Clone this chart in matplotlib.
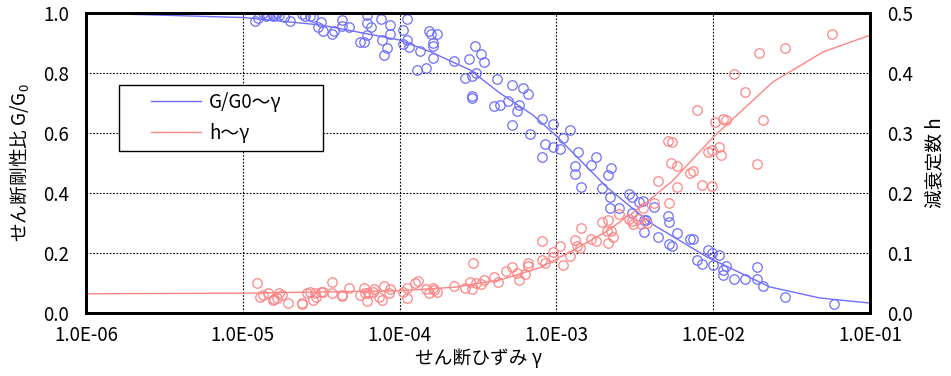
import numpy as np
import matplotlib

matplotlib.use("Agg")
import matplotlib.pyplot as plt
from matplotlib.legend_handler import HandlerLine2D
from matplotlib.patches import Rectangle
from matplotlib.ticker import FixedLocator, FuncFormatter

plt.rcParams["font.family"] = ["Noto Sans CJK JP", "DejaVu Sans"]
plt.rcParams["mathtext.default"] = "regular"

# G/G0 test points: log10(strain), G/G0
g_logx = [-4.92, -4.90, -4.87, -4.85, -4.84, -4.81, -4.81, -4.78, -4.77, -4.74, -4.70,
          -4.62, -4.60, -4.57, -4.55, -4.50, -4.52, -4.49, -4.43, -4.42, -4.37, -4.37,
          -4.32, -4.25, -4.23, -4.21, -4.21, -4.18, -4.21, -4.12, -4.11, -4.06, -4.06,
          -4.08, -4.10,
          -3.98, -3.95, -3.95, -3.98, -3.94, -3.87, -3.81, -3.80, -3.76, -3.79, -3.79,
          -3.79, -3.83, -3.89, -3.65, -3.56, -3.52, -3.48, -3.46, -3.51, -3.54, -3.58,
          -3.38, -3.54, -3.54, -3.40, -3.36, -3.31, -3.28, -3.21, -3.18, -3.24, -3.25,
          -3.28, -3.17,
          -3.09, -3.02, -2.91, -2.96, -3.07, -3.09, -3.02, -2.98, -2.86, -2.75, -2.78,
          -2.88, -2.88, -2.84, -2.65, -2.67, -2.71, -2.66, -2.54, -2.52, -2.47, -2.45,
          -2.66, -2.60, -2.52, -2.38, -2.44, -2.43, -2.29, -2.28, -2.44, -2.35, -2.23,
          -2.28, -2.26, -2.15, -2.13, -2.03, -2.01, -1.96, -2.10, -2.07, -2.00, -1.94,
          -1.92, -1.94, -1.87, -1.72, -1.80, -1.72, -1.68, -1.54, -1.23]
g_val = [0.973, 0.983, 1.0, 0.99, 0.993, 0.997, 0.99, 1.0, 0.993, 0.987, 0.973,
         0.997, 0.99, 0.99, 0.987, 0.97, 0.953, 0.94, 0.93, 0.94, 0.977, 0.957,
         0.953, 0.903, 0.903, 0.993, 0.967, 0.953, 0.927, 0.98, 0.91, 0.96, 0.93,
         0.883, 0.86,
         0.943, 0.98, 0.91, 0.897, 0.887, 0.873, 0.94, 0.93, 0.93, 0.90, 0.89,
         0.85, 0.817, 0.81, 0.84, 0.847, 0.89, 0.863, 0.837, 0.80, 0.79, 0.783,
         0.78, 0.723, 0.717, 0.69, 0.693, 0.707, 0.76, 0.75, 0.73, 0.693, 0.673,
         0.627, 0.597,
         0.647, 0.63, 0.61, 0.583, 0.563, 0.52, 0.553, 0.547, 0.537, 0.52, 0.493,
         0.49, 0.463, 0.42, 0.483, 0.46, 0.417, 0.387, 0.397, 0.387, 0.37, 0.373,
         0.35, 0.35, 0.333, 0.353, 0.31, 0.31, 0.323, 0.303, 0.27, 0.253, 0.267,
         0.23, 0.223, 0.247, 0.247, 0.21, 0.20, 0.193, 0.177, 0.163, 0.16, 0.143,
         0.157, 0.127, 0.113, 0.153, 0.113, 0.113, 0.09, 0.053, 0.03]

# damping test points: log10(strain), h
h_logx = [-4.91, -4.89, -4.87, -4.84, -4.81, -4.78, -4.77, -4.75, -4.80, -4.71, -4.62,
          -4.62, -4.59, -4.57, -4.55, -4.54, -4.53, -4.50, -4.49, -4.43, -4.43, -4.37,
          -4.37, -4.32, -4.25, -4.23, -4.22, -4.21, -4.20, -4.17, -4.16, -4.13, -4.11,
          -4.10, -4.07, -4.06,
          -3.98, -3.95, -3.95, -3.90, -3.88, -3.83, -3.81, -3.79, -3.78, -3.76, -3.65,
          -3.58, -3.55, -3.54, -3.53, -3.51, -3.48, -3.46, -3.40, -3.37, -3.32, -3.28,
          -3.25, -3.24, -3.20, -3.18, -3.18,
          -3.09, -3.09, -3.07, -3.02, -3.02, -2.98, -2.96, -2.91, -2.88, -2.87, -2.85,
          -2.84, -2.78, -2.75, -2.71, -2.67, -2.68, -2.65, -2.64, -2.67, -2.60, -2.54,
          -2.52, -2.51, -2.48, -2.46, -2.42, -2.45, -2.38, -2.35, -2.28, -2.29, -2.26,
          -2.27, -2.23, -2.23, -2.15, -2.13, -2.07, -2.01, -2.03, -2.01, -1.96, -1.95,
          -1.99, -1.94, -1.92, -2.10, -1.80, -1.87, -1.72, -1.68, -1.71, -1.54, -1.24]
h_val = [0.05, 0.027, 0.03, 0.033, 0.022, 0.025, 0.033, 0.03, 0.023, 0.017, 0.017,
         0.015, 0.033, 0.035, 0.022, 0.033, 0.027, 0.035, 0.035, 0.052, 0.033, 0.03,
         0.028, 0.042, 0.03, 0.042, 0.033, 0.02, 0.033, 0.035, 0.04, 0.027, 0.022,
         0.045, 0.033, 0.04,
         0.035, 0.025, 0.042, 0.05, 0.053, 0.04, 0.033, 0.042, 0.038, 0.035, 0.045,
         0.042, 0.052, 0.04, 0.083, 0.05, 0.048, 0.055, 0.06, 0.052, 0.07, 0.077,
         0.067, 0.055, 0.065, 0.083, 0.078,
         0.12, 0.088, 0.083, 0.102, 0.093, 0.112, 0.08, 0.095, 0.122, 0.112, 0.108,
         0.142, 0.123, 0.12, 0.152, 0.155, 0.137, 0.137, 0.127, 0.117, 0.165, 0.157,
         0.153, 0.148, 0.157, 0.148, 0.15, 0.175, 0.183, 0.22, 0.183, 0.287, 0.285,
         0.25, 0.245, 0.21, 0.233, 0.237, 0.213, 0.212, 0.268, 0.272, 0.277, 0.263,
         0.318, 0.323, 0.322, 0.338, 0.368, 0.398, 0.248, 0.322, 0.433, 0.442, 0.465]

# fitted curves
g_fit_logx = [-6, -5, -4.5, -4, -3.8, -3.55, -3.36, -3.15, -3.0, -2.68, -2.4, -2.04, -1.64, -1.32, -1.0]
g_fit = [1.0, 0.985, 0.96, 0.91, 0.87, 0.81, 0.733, 0.66, 0.59, 0.42, 0.30, 0.187, 0.087, 0.05, 0.033]
h_fit_logx = [-6, -5, -4, -3.65, -3.36, -3.1, -2.89, -2.68, -2.47, -2.26, -2.0, -1.62, -1.3, -1.0]
h_fit = [0.032, 0.033, 0.037, 0.043, 0.055, 0.076, 0.105, 0.136, 0.175, 0.22, 0.293, 0.385, 0.435, 0.463]

BLUE = "#6f6fff"
RED = "#ff8585"

fig = plt.figure(figsize=(9.51, 3.76), dpi=100)
ax = fig.add_axes([0.0904, 0.1676, 0.8244, 0.7978])
ax2 = ax.twinx()

ax.plot(10 ** np.array(g_logx), g_val, "o", mfc="none", mec=BLUE, ms=6.8, mew=0.9)
line_g, = ax.plot(10 ** np.array(g_fit_logx), g_fit, color=BLUE, lw=1.0, label="G/G0～γ")
ax2.plot(10 ** np.array(h_logx), h_val, "o", mfc="none", mec=RED, ms=6.8, mew=0.9)
line_h, = ax2.plot(10 ** np.array(h_fit_logx), h_fit, color=RED, lw=1.0, label="h～γ")

ax.set_xscale("log")
ax.set_xlim(1e-6, 1e-1)
ax.set_ylim(0, 1.0)
ax2.set_ylim(0, 0.5)

ax.xaxis.set_major_locator(FixedLocator([1e-6, 1e-5, 1e-4, 1e-3, 1e-2, 1e-1]))
ax.xaxis.set_minor_locator(FixedLocator([]))
ax.xaxis.set_major_formatter(FuncFormatter(lambda v, p: f"{v:.1E}"))
ax.set_yticks(np.arange(0, 1.01, 0.2))
ax.yaxis.set_major_formatter(FuncFormatter(lambda v, p: f"{v:.1f}"))
ax2.set_yticks(np.arange(0, 0.51, 0.1))
ax2.yaxis.set_major_formatter(FuncFormatter(lambda v, p: f"{v:.1f}"))

ax.grid(True, which="major", color="black", ls=(0, (1.5, 1.5)), lw=0.8)
for a in (ax, ax2):
    a.tick_params(axis="y", length=0, labelsize=13.5, pad=12)
    for s in a.spines.values():
        s.set_linewidth(2)
        s.set_color("black")
ax.tick_params(axis="x", length=0, labelsize=13.5, pad=9)

ax.set_xlabel("せん断ひずみ γ", fontsize=13.5, labelpad=1)
ax.set_ylabel("せん断剛性比 G/G$_0$", fontsize=13.5, labelpad=8)
ax2.set_ylabel("減衰定数 h", fontsize=13.5, labelpad=8)

# legend box drawn as its own rectangle so its width matches the original
ax.add_patch(Rectangle((0.042, 0.54), 0.26, 0.22, transform=ax.transAxes,
                       facecolor="white", edgecolor="black", lw=1.0, zorder=4.9))
leg = ax.legend(handles=[line_g, line_h], loc="upper left", bbox_to_anchor=(0.042, 0.76),
                borderaxespad=0, fontsize=13.5, frameon=False,
                handlelength=4.05, handletextpad=0.4, borderpad=0.35, labelspacing=0.55,
                handler_map={line_g: HandlerLine2D(xpad=1.35), line_h: HandlerLine2D(xpad=1.35)})

fig.savefig("out.png", dpi=100)
